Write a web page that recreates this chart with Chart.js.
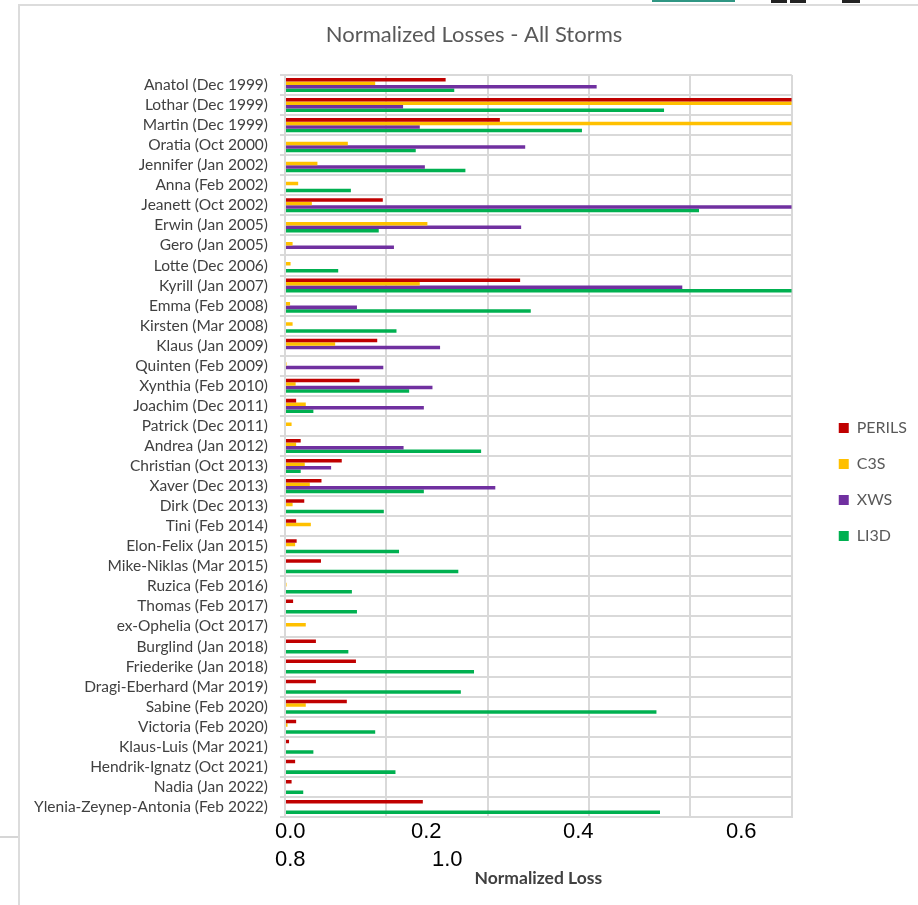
<!DOCTYPE html>
<html>
<head>
<meta charset="utf-8">
<title>Normalized Losses - All Storms</title>
<script src="https://cdn.jsdelivr.net/npm/chart.js@4.4.1/dist/chart.umd.min.js"></script>
<style>
  html, body { margin: 0; padding: 0; background: #fff; width: 918px; height: 905px; overflow: hidden; position: relative; }
  #card { position: absolute; left: 18px; top: 4px; width: 940px; height: 940px; border-left: 2px solid #dcdcdc; border-top: 2px solid #dcdcdc; }
  .edge { position: absolute; }
  #chart { position: absolute; left: 0; top: 0; }
</style>
</head>
<body>
<div id="card"></div>
<div class="edge" style="left:0;top:836px;width:18px;height:2px;background:#d6d6d6"></div>
<div class="edge" style="left:652px;top:0;width:83px;height:2px;background:#2f9683"></div>
<div class="edge" style="left:771px;top:0;width:16px;height:3px;background:#222"></div>
<div class="edge" style="left:790px;top:0;width:16px;height:3px;background:#222"></div>
<div class="edge" style="left:842px;top:0;width:18px;height:3px;background:#222"></div>
<canvas id="chart" width="918" height="905"></canvas>
<script>
// Storm events, oldest first
const storms = [
  'Anatol (Dec 1999)', 'Lothar (Dec 1999)', 'Martin (Dec 1999)', 'Oratia (Oct 2000)',
  'Jennifer (Jan 2002)', 'Anna (Feb 2002)', 'Jeanett (Oct 2002)', 'Erwin (Jan 2005)',
  'Gero (Jan 2005)', 'Lotte (Dec 2006)', 'Kyrill (Jan 2007)', 'Emma (Feb 2008)',
  'Kirsten (Mar 2008)', 'Klaus (Jan 2009)', 'Quinten (Feb 2009)', 'Xynthia (Feb 2010)',
  'Joachim (Dec 2011)', 'Patrick (Dec 2011)', 'Andrea (Jan 2012)', 'Christian (Oct 2013)',
  'Xaver (Dec 2013)', 'Dirk (Dec 2013)', 'Tini (Feb 2014)', 'Elon-Felix (Jan 2015)',
  'Mike-Niklas (Mar 2015)', 'Ruzica (Feb 2016)', 'Thomas (Feb 2017)', 'ex-Ophelia (Oct 2017)',
  'Burglind (Jan 2018)', 'Friederike (Jan 2018)', 'Dragi-Eberhard (Mar 2019)', 'Sabine (Feb 2020)',
  'Victoria (Feb 2020)', 'Klaus-Luis (Mar 2021)', 'Hendrik-Ignatz (Oct 2021)', 'Nadia (Jan 2022)',
  'Ylenia-Zeynep-Antonia (Feb 2022)'
];

// Normalized loss per source (null = no estimate)
const perils = [0.317, 1.0, 0.424, null, null, null, 0.193, null, null, null, 0.464, null,
  null, 0.182, null, 0.147, 0.022, null, 0.031, 0.112, 0.072, 0.038, 0.022, 0.023,
  0.071, null, 0.016, null, 0.061, 0.140, 0.061, 0.122, 0.022, 0.008, 0.020, 0.013, 0.272];
const c3s = [0.178, 1.0, 1.0, 0.124, 0.064, 0.026, 0.053, 0.281, 0.015, 0.011, 0.266, 0.010,
  0.015, 0.099, 0.003, 0.021, 0.041, 0.013, 0.022, 0.039, 0.049, 0.015, 0.051, 0.020,
  null, 0.003, null, 0.041, null, null, null, 0.041, 0.005, null, null, null, null];
const xws = [0.615, 0.233, 0.266, 0.474, 0.276, null, 1.0, 0.466, 0.215, null, 0.784, 0.142,
  null, 0.306, 0.194, 0.291, 0.274, null, 0.234, 0.091, 0.415, null, null, null,
  null, null, null, null, null, null, null, null, null, null, null, null, null];
const li3d = [0.334, 0.748, 0.586, 0.258, 0.356, 0.130, 0.817, 0.185, null, 0.105, 1.0, 0.485,
  0.220, null, null, 0.245, 0.056, null, 0.387, 0.031, 0.274, 0.195, null, 0.225,
  0.342, 0.132, 0.142, null, 0.125, 0.373, 0.347, 0.733, 0.178, 0.056, 0.218, 0.036, 0.740];

const seriesNames = ['PERILS', 'C3S', 'XWS', 'LI3D'];
const seriesColors = ['#C00000', '#FFC000', '#7030A0', '#00B050'];
const seriesValues = [perils, c3s, xws, li3d];

// Value-axis ticks
const xTickValues = [0, 0.2, 0.4, 0.6, 0.8, 1.0];
const xTickLabels = ['0.0', '0.2', '0.4', '0.6', '0.8', '1.0'];

const UI_FONT = 'Lato, "Open Sans", "Noto Sans", sans-serif';
const GRID = '#d9d9d9';
const PAD_LEFT = 31, PAD_RIGHT = 1;

// Value-axis labels flow in two lines under the plot
const tickSlots = [[275, 832], [411, 832], [563, 832], [726, 832], [275, 860], [432, 860]];
const wrappedTicks = {
  id: 'wrappedTicks',
  afterDraw(chart) {
    const scale = chart.scales.x;
    const ctx = chart.ctx;
    ctx.save();
    ctx.font = '22px "Liberation Sans", Arial, sans-serif';
    ctx.fillStyle = '#000';
    ctx.textAlign = 'left';
    ctx.textBaseline = 'middle';
    scale.ticks.forEach((t, i) => {
      const slot = tickSlots[i];
      if (!slot) return;
      ctx.fillText(t.label != null ? t.label : xTickLabels[i], slot[0], slot[1]);
    });
    ctx.restore();
  }
};

new Chart(document.getElementById('chart'), {
  type: 'bar',
  data: {
    labels: storms,
    datasets: seriesNames.map((name, i) => ({
      label: name,
      data: seriesValues[i],
      backgroundColor: seriesColors[i],
      borderWidth: 0,
      categoryPercentage: 0.7,
      barPercentage: 1.0,
      xAxisID: 'x',
      yAxisID: 'y'
    }))
  },
  options: {
    indexAxis: 'y',
    responsive: false,
    animation: false,
    devicePixelRatio: 1,
    layout: { padding: { left: PAD_LEFT, right: PAD_RIGHT, top: 0, bottom: 0 } },
    scales: {
      x: {
        type: 'linear',
        position: 'bottom',
        min: 0,
        max: 1,
        afterBuildTicks(scale) { scale.ticks = xTickValues.map(v => ({ value: v })); },
        ticks: { display: false, callback: (v, i) => xTickLabels[i] },
        grid: { color: GRID, lineWidth: 2, drawTicks: false },
        border: { display: true, color: GRID, width: 2 },
        title: {
          display: true,
          text: 'Normalized Loss',
          color: '#404040',
          font: { family: UI_FONT, size: 17.5, weight: 'bold', lineHeight: 1.2 },
          padding: { top: 50.5, bottom: 16.5 }
        }
      },
      y: {
        type: 'category',
        position: 'left',
        offset: true,
        grid: { color: GRID, lineWidth: 2, tickLength: 5, offset: true },
        border: { display: true, color: GRID, width: 2 },
        ticks: {
          autoSkip: false,
          color: '#404040',
          padding: 12,
          font: { family: UI_FONT, size: 15.5 }
        },
        afterFit(scale) { scale.width = 285 - PAD_LEFT; }
      },
      // spacer between the plot and the legend
      gap: {
        type: 'category',
        axis: 'y',
        position: 'right',
        grid: { display: false },
        border: { display: false },
        ticks: { display: false },
        afterFit(scale) { scale.width = 27; }
      }
    },
    plugins: {
      title: {
        display: true,
        text: 'Normalized Losses - All Storms',
        color: '#595959',
        font: { family: UI_FONT, size: 22, weight: 'normal', lineHeight: 1.2 },
        padding: { top: 21.8, bottom: 26.8 }
      },
      legend: {
        position: 'right',
        align: 'center',
        title: { display: true, text: ' ', font: { size: 10, lineHeight: 1.2 }, padding: { top: 0, bottom: 47 } },
        labels: {
          boxWidth: 10,
          boxHeight: 10,
          padding: 20,
          color: '#595959',
          font: { family: UI_FONT, size: 16 }
        }
      },
      tooltip: { enabled: false }
    }
  },
  plugins: [wrappedTicks]
});
</script>
</body>
</html>
